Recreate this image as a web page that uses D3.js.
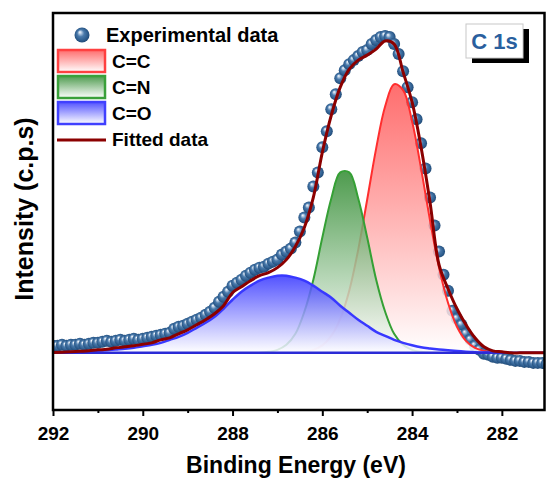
<!DOCTYPE html>
<html>
<head>
<meta charset="utf-8">
<script src="https://cdn.jsdelivr.net/npm/d3@7"></script>
<style>
  html, body { margin: 0; padding: 0; background: #fff; }
  svg { display: block; font-family: "Liberation Sans", Arial, sans-serif; font-weight: bold; }
</style>
</head>
<body>
<svg id="chart" width="547" height="481"></svg>
<script>
// measured C 1s spectrum, 0.1 eV step
const energy = [
  292.0, 291.9, 291.8, 291.7, 291.6, 291.5, 291.4, 291.3, 291.2, 291.1,
  291.0, 290.9, 290.8, 290.7, 290.6, 290.5, 290.4, 290.3, 290.2, 290.1,
  290.0, 289.9, 289.8, 289.7, 289.6, 289.5, 289.4, 289.3, 289.2, 289.1,
  289.0, 288.9, 288.8, 288.7, 288.6, 288.5, 288.4, 288.3, 288.2, 288.1,
  288.0, 287.9, 287.8, 287.7, 287.6, 287.5, 287.4, 287.3, 287.2, 287.1,
  287.0, 286.9, 286.8, 286.7, 286.6, 286.5, 286.4, 286.3, 286.2, 286.1,
  286.0, 285.9, 285.8, 285.7, 285.6, 285.5, 285.4, 285.3, 285.2, 285.1,
  285.0, 284.9, 284.8, 284.7, 284.6, 284.5, 284.4, 284.3, 284.2, 284.1,
  284.0, 283.9, 283.8, 283.7, 283.6, 283.5, 283.4, 283.3, 283.2, 283.1,
  283.0, 282.9, 282.8, 282.7, 282.6, 282.5, 282.4, 282.3, 282.2, 282.1,
  282.0, 281.9, 281.8, 281.7, 281.6, 281.5, 281.4, 281.3, 281.2, 281.1,
  281.0
];
const experimental = [
  7, 7, 8, 7, 8, 8, 9, 8, 9, 10,
  10, 11, 12, 11, 12, 13, 12, 13, 14, 13,
  14, 15, 16, 17, 18, 19, 20, 24, 26, 27,
  29, 31, 33, 35, 38, 41, 45, 51, 56, 61,
  67, 70, 73, 77, 80, 83, 85, 86, 89, 91,
  93, 98, 101, 104, 110, 121, 135, 145, 166, 180,
  205, 221, 243, 258, 274, 282, 288, 292, 296, 300,
  302, 308, 312, 315, 316, 315, 308, 298, 281, 265,
  250, 233, 209, 184, 155, 127, 101, 78, 62, 42,
  34, 28, 19, 13, 7, 3, -1, -2, -4, -5,
  -5, -6, -7, -8, -8, -9, -9, -10, -10, -10,
  -11
];

// fit components, 0.2 eV step
const fitEnergy = [
  292.0, 291.8, 291.6, 291.4, 291.2, 291.0, 290.8, 290.6, 290.4, 290.2,
  290.0, 289.8, 289.6, 289.4, 289.2, 289.0, 288.8, 288.6, 288.4, 288.2,
  288.0, 287.8, 287.6, 287.4, 287.2, 287.0, 286.8, 286.6, 286.4, 286.2,
  286.0, 285.8, 285.6, 285.4, 285.2, 285.0, 284.8, 284.6, 284.4, 284.2,
  284.0, 283.8, 283.6, 283.4, 283.2, 283.0, 282.8, 282.6, 282.4, 282.2,
  282.0, 281.8, 281.6, 281.4, 281.2, 281.0
];
const peakCC = [
  0, 0, 0, 0, 0, 0, 0, 0, 0, 0,
  0, 0, 0, 0, 0, 0, 0, 0, 0, 0,
  0, 0, 0, 0, 0, 0, 0, 0, 1, 3,
  7.5, 17, 34, 62, 103, 153, 204, 246, 268, 262,
  231, 184, 132, 85, 50, 26, 12, 5, 2, 0.7,
  0, 0, 0, 0, 0, 0
];
const peakCN = [
  0, 0, 0, 0, 0, 0, 0, 0, 0, 0,
  0, 0, 0, 0, 0, 0, 0, 0, 0, 0,
  0, 0, 0, 0, 1, 3, 8, 19, 41, 73,
  115, 154, 180, 180, 154, 115, 73, 41, 19, 8,
  3, 1, 0, 0, 0, 0, 0, 0, 0, 0,
  0, 0, 0, 0, 0, 0
];
const peakCO = [
  0.4, 0.6, 0.9, 1.2, 1.6, 2, 2.6, 3.3, 4, 5,
  6.5, 8, 10, 13, 16, 20, 25, 30, 36, 44,
  53, 61, 67, 72, 75, 77, 77, 75, 72, 67,
  61, 55, 47, 40, 33, 27, 21, 17, 13, 10,
  7.5, 5.5, 4.3, 3.3, 2.5, 1.8, 1.2, 0.7, 0.4, 0.2,
  0, 0, 0, 0, 0, 0
];
const fitted = [
  0.4, 0.6, 1, 1.5, 2, 3, 3.5, 5, 6, 7,
  8.5, 10, 13, 15, 19, 23, 28, 33, 39, 47,
  60, 66, 72, 77, 80, 85, 93, 106, 125, 155,
  200, 237, 265, 283, 292, 297, 303, 311, 308, 280,
  250, 205, 150, 88, 64, 44, 28, 15, 6, 2,
  1, 0, 0, 0, 0, 0
];
const baselineValue = 0;

const majorTicks = [292, 290, 288, 286, 284, 282];
const minorTicks = [291, 289, 287, 285, 283];
const seriesNames = ["Experimental data", "C=C", "C=N", "C=O", "Fitted data"];
const panelLabel = "C 1s";

const svg = d3.select("#chart");
const margin = {top: 13, right: 2.5, bottom: 71, left: 53};
const width = 547 - margin.left - margin.right;
const height = 481 - margin.top - margin.bottom;

const x = d3.scaleLinear().domain([292, 281.05]).range([margin.left, margin.left + width]);
const y = d3.scaleLinear().domain([-57, 339]).range([margin.top + height, margin.top]);

const defs = svg.append("defs");
defs.append("clipPath").attr("id", "plotClip")
  .append("rect")
  .attr("x", margin.left).attr("y", margin.top)
  .attr("width", width).attr("height", height);

function vGrad(id, top, opTop) {
  const g = defs.append("linearGradient").attr("id", id)
    .attr("x1", 0).attr("y1", 0).attr("x2", 0).attr("y2", 1);
  g.append("stop").attr("offset", "0%").attr("stop-color", top).attr("stop-opacity", opTop);
  g.append("stop").attr("offset", "100%").attr("stop-color", "#ffffff").attr("stop-opacity", 0.85);
}
vGrad("gradCC", "#ff4a4a", 0.8);
vGrad("gradCN", "#2f8a2f", 0.85);
vGrad("gradCO", "#3434ff", 0.85);

const ball = defs.append("radialGradient").attr("id", "ball")
  .attr("cx", 0.5).attr("cy", 0.5).attr("r", 0.55).attr("fx", 0.35).attr("fy", 0.3);
ball.append("stop").attr("offset", "0%").attr("stop-color", "#ffffff");
ball.append("stop").attr("offset", "15%").attr("stop-color", "#bcd0e6");
ball.append("stop").attr("offset", "42%").attr("stop-color", "#4a7aab");
ball.append("stop").attr("offset", "78%").attr("stop-color", "#2c5b8c");
ball.append("stop").attr("offset", "100%").attr("stop-color", "#1b416b");

const plot = svg.append("g").attr("clip-path", "url(#plotClip)");

// experimental points
plot.append("g").selectAll("circle")
  .data(energy.map((e, i) => ({e: e, v: experimental[i]})))
  .join("circle")
  .attr("cx", d => x(d.e))
  .attr("cy", d => y(d.v))
  .attr("r", 6)
  .attr("fill", "url(#ball)");

const curve = d3.curveCatmullRom.alpha(0.5);

function trimmed(vals) {
  return fitEnergy.map((e, i) => ({e: e, v: vals[i], i: i}))
    .filter(d => vals[d.i] > 0 || vals[d.i - 1] > 0 || vals[d.i + 1] > 0);
}

const area = d3.area()
  .x(d => x(d.e))
  .y0(y(baselineValue))
  .y1(d => y(d.v))
  .curve(curve);

const line = d3.line()
  .x(d => x(d.e))
  .y(d => y(d.v))
  .curve(curve);

const components = [
  {vals: peakCC, fill: "url(#gradCC)", stroke: "#ff2e2e", w: 2},
  {vals: peakCN, fill: "url(#gradCN)", stroke: "#35a035", w: 2},
  {vals: peakCO, fill: "url(#gradCO)", stroke: "#3838ff", w: 2.5}
];

components.forEach(c => {
  const pts = trimmed(c.vals);
  plot.append("path").datum(pts)
    .attr("fill", c.fill)
    .attr("d", area);
  plot.append("path").datum(pts)
    .attr("fill", "none")
    .attr("stroke", c.stroke)
    .attr("stroke-width", c.w)
    .attr("d", line);
});

// baseline
plot.append("line")
  .attr("x1", x(292)).attr("x2", x(281))
  .attr("y1", y(baselineValue)).attr("y2", y(baselineValue))
  .attr("stroke", "#2b2bd6")
  .attr("stroke-width", 2.5);

// fitted envelope
plot.append("path")
  .datum(fitEnergy.map((e, i) => ({e: e, v: fitted[i]})))
  .attr("fill", "none")
  .attr("stroke", "#8b0000")
  .attr("stroke-width", 3)
  .attr("stroke-linejoin", "round")
  .attr("d", line);

// x axis
const axisY = margin.top + height;
const gx = svg.append("g")
  .attr("transform", "translate(0," + axisY + ")")
  .call(d3.axisBottom(x).tickValues(majorTicks).tickSize(6).tickPadding(11).tickFormat(d3.format("d")));
gx.select(".domain").remove();
gx.selectAll("line").attr("stroke", "#000").attr("stroke-width", 2);
gx.selectAll("text")
  .attr("fill", "#000")
  .style("font-family", '"Liberation Sans", Arial, sans-serif')
  .style("font-weight", "bold")
  .style("font-size", "19px");

const gm = svg.append("g")
  .attr("transform", "translate(0," + axisY + ")")
  .call(d3.axisBottom(x).tickValues(minorTicks).tickSize(3).tickFormat(""));
gm.select(".domain").remove();
gm.selectAll("line").attr("stroke", "#000").attr("stroke-width", 2);

// frame
svg.append("rect")
  .attr("x", margin.left).attr("y", margin.top)
  .attr("width", width).attr("height", height)
  .attr("fill", "none")
  .attr("stroke", "#000")
  .attr("stroke-width", 2.5);

// axis titles
svg.append("text")
  .attr("x", 296).attr("y", 473)
  .attr("text-anchor", "middle")
  .style("font-size", "23px")
  .text("Binding Energy (eV)");

svg.append("text")
  .attr("transform", "translate(33,209) rotate(-90)")
  .attr("text-anchor", "middle")
  .style("font-size", "25px")
  .text("Intensity (c.p.s)");

// legend
const lg = svg.append("g");
lg.append("circle").attr("cx", 82).attr("cy", 35).attr("r", 7.5).attr("fill", "url(#ball)");
lg.append("text").attr("x", 106).attr("y", 42).style("font-size", "20px").text(seriesNames[0]);

const sw = [
  {y: 50, fill: "url(#gradCC)", stroke: "#ff4040", name: seriesNames[1]},
  {y: 76, fill: "url(#gradCN)", stroke: "#3aa03a", name: seriesNames[2]},
  {y: 102, fill: "url(#gradCO)", stroke: "#4040ff", name: seriesNames[3]}
];
sw.forEach(s => {
  lg.append("rect")
    .attr("x", 58).attr("y", s.y).attr("width", 47).attr("height", 22)
    .attr("fill", s.fill).attr("stroke", s.stroke).attr("stroke-width", 2.5);
  lg.append("text").attr("x", 112).attr("y", s.y + 18).style("font-size", "19px").text(s.name);
});
lg.append("line").attr("x1", 57).attr("x2", 106).attr("y1", 140).attr("y2", 140)
  .attr("stroke", "#8b0000").attr("stroke-width", 3);
lg.append("text").attr("x", 112).attr("y", 146).style("font-size", "19px").text(seriesNames[4]);

// panel label
svg.append("rect").attr("x", 472).attr("y", 29).attr("width", 57).attr("height", 34).attr("fill", "#000");
svg.append("rect").attr("x", 466).attr("y", 24).attr("width", 57).attr("height", 34)
  .attr("fill", "#fff").attr("stroke", "#c8c8c8").attr("stroke-width", 1);
svg.append("text").attr("x", 494.5).attr("y", 49)
  .attr("text-anchor", "middle")
  .attr("fill", "#2a5f9e")
  .style("font-size", "22px")
  .text(panelLabel);
</script>
</body>
</html>
